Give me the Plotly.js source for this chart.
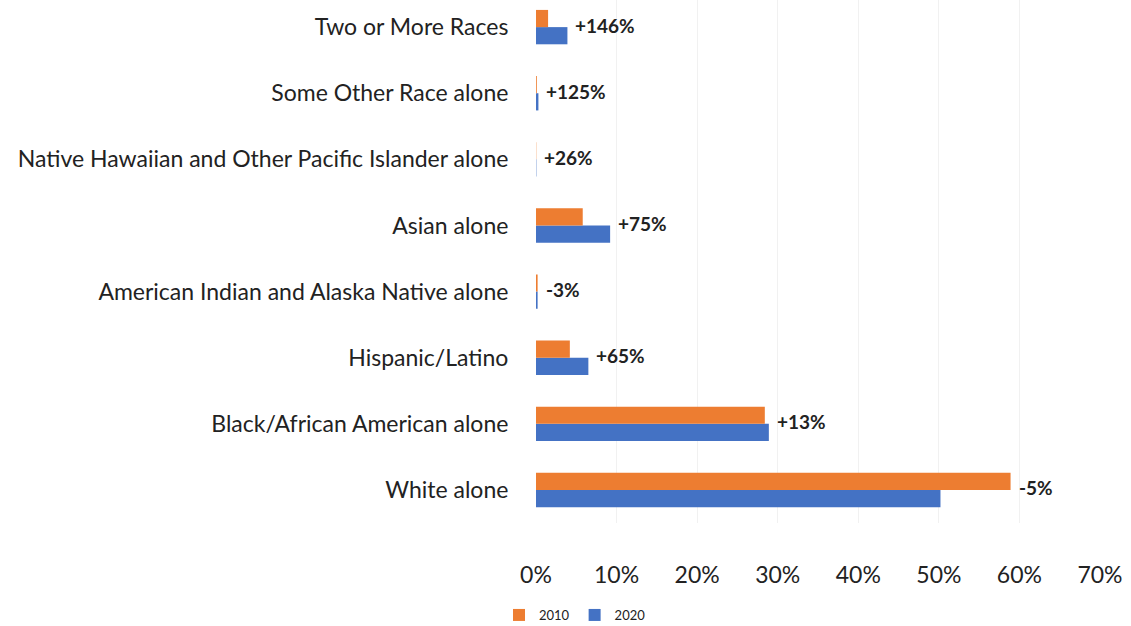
<!DOCTYPE html>
<html>
<head>
<meta charset="utf-8">
<script src="https://cdn.plot.ly/plotly-3.0.1.min.js"></script>
<style>html,body{margin:0;padding:0;background:#fff;}#chart{width:1131px;height:626px;}</style>
</head>
<body>
<div id="chart"></div>
<script>
// Categories top-to-bottom as shown
var categories = [
  "Two or More Races",
  "Some Other Race alone",
  "Native Hawaiian and Other Pacific Islander alone",
  "Asian alone",
  "American Indian and Alaska Native alone",
  "Hispanic/Latino",
  "Black/African American alone",
  "White alone"
];
var share2010 = [1.5, 0.1, 0.03, 5.8, 0.2, 4.2, 28.4, 58.9];
var share2020 = [3.9, 0.3, 0.04, 9.2, 0.2, 6.5, 28.9, 50.2];
var changeLabels = ["+146%", "+125%", "+26%", "+75%", "-3%", "+65%", "+13%", "-5%"];
var seriesNames = ["2010", "2020"];
var xTickVals = [0, 10, 20, 30, 40, 50, 60, 70];
var xTickText = ["0%", "10%", "20%", "30%", "40%", "50%", "60%", "70%"];

var FONT = "Lato, 'Open Sans', sans-serif";

var traces = [
  {type: "bar", orientation: "h", name: seriesNames[1], y: categories, x: share2020,
   marker: {color: "#4472C4"}, hoverinfo: "x+y"},
  {type: "bar", orientation: "h", name: seriesNames[0], y: categories, x: share2010,
   marker: {color: "#ED7D31"}, hoverinfo: "x+y"}
];

var annotations = categories.map(function (c, i) {
  return {
    x: Math.max(share2010[i], share2020[i]), y: c, xref: "x", yref: "y",
    text: changeLabels[i], showarrow: false, xanchor: "left", yanchor: "middle",
    xshift: 6, yshift: 2,
    font: {family: FONT, size: 19, color: "#222", weight: "bold"}
  };
});

var layout = {
  width: 1131, height: 626,
  paper_bgcolor: "#fff", plot_bgcolor: "#fff",
  margin: {l: 536, r: 31, t: 0, b: 103},
  barmode: "group", bargap: 0.48, bargroupgap: 0,
  font: {family: FONT, color: "#222"},
  xaxis: {
    range: [0, 70], tickvals: xTickVals, ticktext: xTickText,
    showgrid: true, gridcolor: "#f1f1f1", zeroline: false, showline: false,
    ticks: "outside", ticklen: 31, tickcolor: "rgba(0,0,0,0)",
    tickfont: {family: FONT, size: 23, color: "#222"}, fixedrange: true
  },
  yaxis: {
    categoryorder: "array", categoryarray: categories.slice().reverse(),
    range: [-0.5, 7.41], showgrid: false, zeroline: false, showline: false,
    ticks: "outside", ticklen: 22, tickcolor: "rgba(0,0,0,0)",
    tickfont: {family: FONT, size: 23, color: "#222"}, fixedrange: true
  },
  showlegend: true,
  legend: {
    orientation: "h", traceorder: "reversed",
    xref: "container", yref: "container", x: 499 / 1131, y: 11 / 626,
    xanchor: "left", yanchor: "middle",
    font: {family: FONT, size: 13, color: "#222"},
    itemwidth: 30, tracegroupgap: 0, bgcolor: "rgba(0,0,0,0)"
  },
  annotations: annotations
};

Plotly.newPlot("chart", traces, layout, {displayModeBar: false, staticPlot: true});
</script>
</body>
</html>
